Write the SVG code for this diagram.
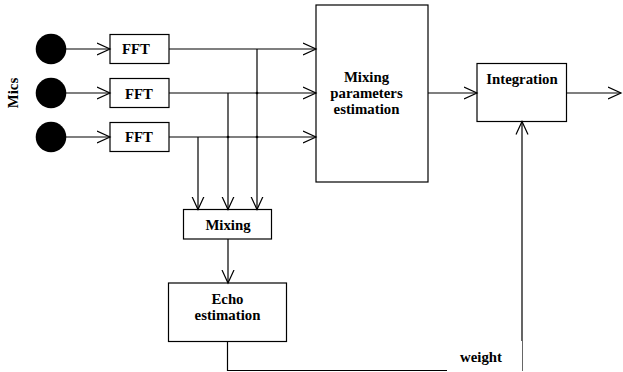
<svg xmlns="http://www.w3.org/2000/svg" width="623" height="372" viewBox="0 0 623 372">
<style>
.box{fill:#fff;stroke:#000;stroke-width:1.2}
.lbl{font-family:"Liberation Serif","Times New Roman",serif;font-weight:bold;font-size:14.8px;fill:#000;text-anchor:middle}
.ln{fill:none;stroke:#000;stroke-width:1.2}
.arr{fill:none;stroke:#000;stroke-width:1.2;marker-end:url(#ah)}
</style>
<defs>
<marker id="ah" markerUnits="userSpaceOnUse" markerWidth="16" markerHeight="16" refX="13" refY="7" orient="auto" viewBox="0 0 16 14">
<path d="M0,1 L13,7 L0,13" fill="none" stroke="#000" stroke-width="1.2"/>
</marker>
</defs>
<rect width="623" height="372" fill="#fff"/>
<text class="lbl" transform="translate(18,93) rotate(-90)">Mics</text>
<g id="mic1"><circle cx="51" cy="49" r="15.3" fill="#000"/></g>
<g id="mic2"><circle cx="51" cy="93" r="15.3" fill="#000"/></g>
<g id="mic3"><circle cx="51" cy="137" r="15.3" fill="#000"/></g>
<g id="fft1"><rect class="box" x="110" y="34.5" width="59" height="29"/><text class="lbl" x="136" y="54">FFT</text></g>
<g id="fft2"><rect class="box" x="110" y="78.5" width="59" height="29"/><text class="lbl" x="139" y="98.5">FFT</text></g>
<g id="fft3"><rect class="box" x="110" y="122.5" width="59" height="29"/><text class="lbl" x="139" y="142">FFT</text></g>
<g id="mixparams"><rect class="box" x="316" y="5" width="112" height="177"/>
<text class="lbl" x="366.5" y="81.5">Mixing</text>
<text class="lbl" x="366.5" y="97.5">parameters</text>
<text class="lbl" x="366.5" y="113.5">estimation</text></g>
<g id="integration"><rect class="box" x="477" y="63.5" width="89.5" height="58"/><text class="lbl" x="522" y="84">Integration</text></g>
<g id="mixing"><rect class="box" x="183.5" y="209.5" width="88" height="29.5"/><text class="lbl" x="228" y="230">Mixing</text></g>
<g id="echo"><rect class="box" x="168.5" y="283" width="118" height="58.5"/>
<text class="lbl" x="227.5" y="303.5">Echo</text>
<text class="lbl" x="227.5" y="320">estimation</text></g>
<g id="connectors">
<path class="arr" d="M66,49 H110"/>
<path class="arr" d="M66,93 H110"/>
<path class="arr" d="M66,137 H110"/>
<path class="arr" d="M169,49 H316"/>
<path class="arr" d="M169,93 H316"/>
<path class="arr" d="M169,137 H316"/>
<path class="arr" d="M257,49 V209.5"/>
<path class="arr" d="M228,93 V209.5"/>
<path class="arr" d="M198,137 V209.5"/>
<circle cx="257" cy="93" r="1.3" fill="#000"/>
<circle cx="257" cy="137" r="1.3" fill="#000"/>
<circle cx="228" cy="137" r="1.3" fill="#000"/>
<path class="arr" d="M228,239 V283"/>
<path class="arr" d="M428,93 H477"/>
<path class="arr" d="M566.5,93 H621"/>
<path class="arr" d="M227.5,341.5 V370.5 H522 V121.5"/>
<rect x="447" y="341" width="75" height="31" fill="#fff"/>
<text class="lbl" x="481" y="361.5">weight</text>
</g>
</svg>
